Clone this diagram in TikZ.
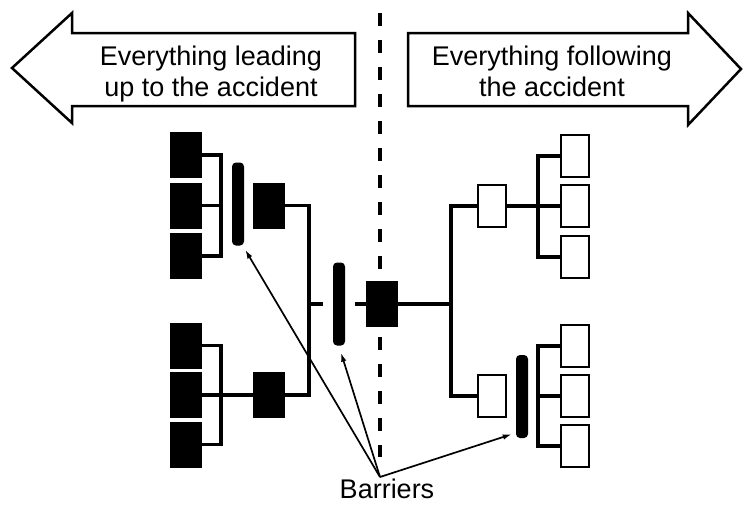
\documentclass[tikz,border=0pt]{standalone}
\usepackage{fontspec}
\setmainfont{Liberation Sans}
\usetikzlibrary{arrows.meta}

\begin{document}
\begin{tikzpicture}[x=1pt,y=-1pt,
  blk/.style={draw=black,fill=black,line width=0.8pt,minimum width=31pt,minimum height=45pt,inner sep=0pt},
  wht/.style={draw=black,fill=white,line width=2.6pt,minimum width=28pt,minimum height=42pt,inner sep=0pt},
  barrier/.style={fill=black,rounded corners=4pt,minimum width=12pt,minimum height=83pt,inner sep=0pt},
  wire/.style={line width=3.6pt},
  pointer/.style={line width=1.7pt,-{Latex[length=9pt,width=5.5pt]}},
  banner/.style={draw=black,line width=2.5pt,line join=miter},
  caption/.style={font=\fontsize{27}{31}\selectfont,align=center,inner sep=0pt,anchor=base}]
\useasboundingbox (0,0) rectangle (744,504);

% the two banner arrows
\draw[banner] (12,68) -- (72,13) -- (72,33) -- (355,33) -- (355,106) -- (72,106) -- (72,123) -- cycle;
\draw[banner] (741,69) -- (688,13) -- (688,33) -- (408,33) -- (408,106) -- (688,106) -- (688,125) -- cycle;
\node[caption] (past) at (211,96) {Everything leading\\up to the accident};
\node[caption] (future) at (552,96) {Everything following\\the accident};

% moment of the accident
\coordinate (dtop) at (380,13);
\coordinate (dbot) at (380,457);
\draw[line width=3.6pt,dash pattern=on 13pt off 14pt] (dtop) -- (dbot);

% upstream causes (black boxes)
\node[blk] (L1a) at (186,155) {};
\node[blk] (L1b) at (186,205.5) {};
\node[blk] (L1c) at (186,256) {};
\node[blk] (L1m) at (268.5,205.5) {};
\node[blk] (L2a) at (186,345.5) {};
\node[blk] (L2b) at (186,395) {};
\node[blk] (L2c) at (186,444.5) {};
\node[blk] (L2m) at (268.5,395) {};
\node[blk] (C) at (382,304) {};

% barriers
\node[barrier] (B1) at (238,204) {};
\node[barrier] (B2) at (339,304) {};
\node[barrier] (B3) at (522,396.5) {};

% downstream consequences (white boxes)
\node[wht] (R1m) at (492,206) {};
\node[wht] (R1a) at (575,156) {};
\node[wht] (R1b) at (575,206) {};
\node[wht] (R1c) at (575,257) {};
\node[wht] (R2m) at (492,396) {};
\node[wht] (R2a) at (575,346) {};
\node[wht] (R2b) at (575,396) {};
\node[wht] (R2c) at (575,446) {};

% junctions
\coordinate (jA) at (221,205.5);
\coordinate (jB) at (221,395);
\coordinate (jM) at (309,304);
\coordinate (jR) at (451,304);
\coordinate (jC) at (538,206);
\coordinate (jD) at (538,396);

% left-hand wiring
\draw[wire] (L1a.east) -| (jA) |- (L1c.east);
\draw[wire] (L1b.east) -- (jA);
\draw[wire] (L2a.east) -| (jB) |- (L2c.east);
\draw[wire] (L2b.east) -- (L2m.west);
\draw[wire] (L1m.east) -| (jM) |- (L2m.east);
\draw[wire] (jM) -- ([xshift=-10pt]B2.west);
\draw[wire] ([xshift=10pt]B2.east) -- (C.west);

% right-hand wiring
\draw[wire] (C.east) -- (jR);
\draw[wire] (R1m.west) -| (jR) |- (R2m.west);
\draw[wire] (R1a.west) -| (jC) |- (R1c.west);
\draw[wire] (R1m.east) -- (R1b.west);
\draw[wire] (R2a.west) -| (jD) |- (R2c.west);
\draw[wire] (R2b.west) -- (jD);

% label and pointers
\node[caption,text depth=0pt] (lbl) at (387,498) {Barriers};
\coordinate (apex) at (380,477);
\draw[pointer] (apex) -- ([xshift=1pt,yshift=-4pt]B1.south east);
\draw[pointer] (apex) -- ([xshift=2pt,yshift=-7pt]B2.south);
\draw[pointer] (apex) -- ([xshift=-4pt,yshift=4pt]B3.south west);
\end{tikzpicture}
\end{document}
